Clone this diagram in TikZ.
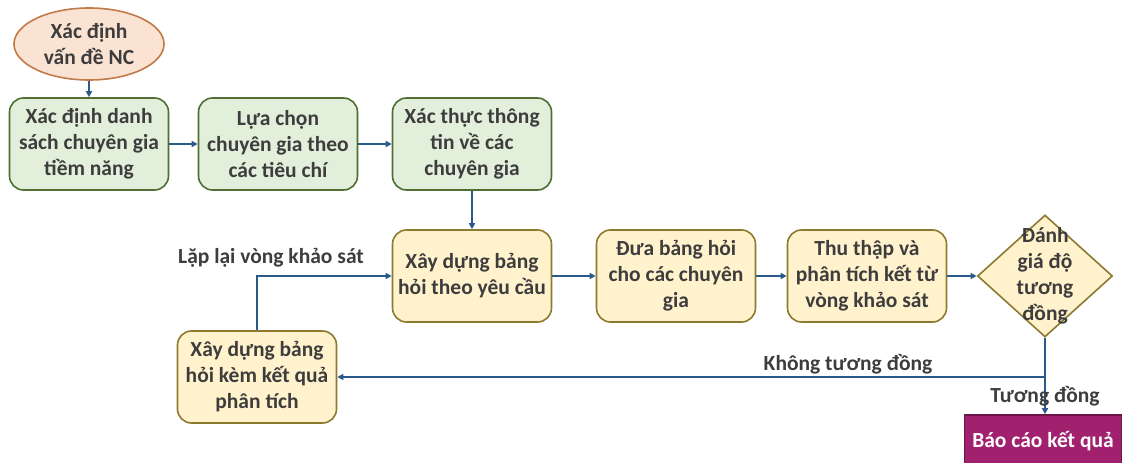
\documentclass[tikz,border=0pt]{standalone}
\usepackage{fontspec}
\setmainfont{Carlito}
\usetikzlibrary{shapes.geometric,arrows.meta}
\definecolor{gfill}{HTML}{E2EFDA}
\definecolor{gdraw}{HTML}{4F6F32}
\definecolor{yfill}{HTML}{FFF2CC}
\definecolor{ydraw}{HTML}{8C7A2E}
\definecolor{efill}{HTML}{FBE3D3}
\definecolor{edraw}{HTML}{C27A48}
\definecolor{rfill}{HTML}{A2216F}
\definecolor{rdraw}{HTML}{6B1549}
\definecolor{lcol}{HTML}{2B5A8A}
\definecolor{tcol}{HTML}{3D3D3D}
\tikzset{
  every node/.style={font=\fontsize{21.5}{26}\selectfont\bfseries, text=tcol},
  box/.style={rectangle, rounded corners=14pt, line width=1.6pt, minimum width=159pt, minimum height=92pt, align=center, inner sep=2pt},
  gbox/.style={box, fill=gfill, draw=gdraw},
  ybox/.style={box, fill=yfill, draw=ydraw},
  conn/.style={draw=lcol, line width=1.4pt, -{Triangle[length=6pt,width=6pt]}},
  lbl/.style={inner sep=0pt},
}
\begin{document}
\begin{tikzpicture}[x=1pt,y=-1pt]
\useasboundingbox (0,0) rectangle (1125,463);
\node[ellipse, fill=efill, draw=edraw, line width=1.6pt, minimum width=150pt, minimum height=72pt, align=center, inner sep=0pt] (e) at (89,44) {Xác định\\vấn đề NC};
\node[gbox] (b1) at (89,144) {Xác định danh\\sách chuyên gia\\tiềm năng};
\node[gbox] (b2) at (278,144) {Lựa chọn\\chuyên gia theo\\các tiêu chí};
\node[gbox] (b3) at (472,144) {Xác thực thông\\tin về các\\chuyên gia};
\node[ybox] (b4) at (472,276) {Xây dựng bảng\\hỏi theo yêu cầu};
\node[ybox] (b5) at (676,276) {Đưa bảng hỏi\\cho các chuyên\\gia};
\node[ybox] (b6) at (867,276) {Thu thập và\\phân tích kết từ\\vòng khảo sát};
\node[ybox] (b7) at (257,377) {Xây dựng bảng\\hỏi kèm kết quả\\phân tích};
\node[diamond, fill=yfill, draw=ydraw, line width=1.6pt, minimum width=135pt, minimum height=122pt, inner sep=0pt] (d) at (1045,276) {};
\node[align=center, inner sep=0pt] (dt) at (1045,276) {Đánh\\giá độ\\tương\\đồng};
\node[rectangle, fill=rfill, draw=rdraw, line width=1.6pt, minimum width=157pt, minimum height=52pt, text=white] (rep) at (1043,441) {Báo cáo kết quả};
\coordinate (br) at (1045,377);
\draw[conn] (e) -- (e |- b1.north);
\draw[conn] (b1) -- (b2);
\draw[conn] (b2) -- (b3);
\draw[conn] (b3) -- (b4);
\draw[conn] (b4) -- (b5);
\draw[conn] (b5) -- (b6);
\draw[conn] (b6) -- (d);
\draw[conn] (d.south) -- (d.south |- rep.north);
\draw[conn] (br) -- (b7.east);
\draw[conn] (b7.north) |- (b4.west);
\node[lbl] (l1) at (271,258) {Lặp lại vòng khảo sát};
\node[lbl] (l2) at (848,364) {Không tương đồng};
\node[lbl] (l3) at (1045,396) {Tương đồng};
\end{tikzpicture}
\end{document}
